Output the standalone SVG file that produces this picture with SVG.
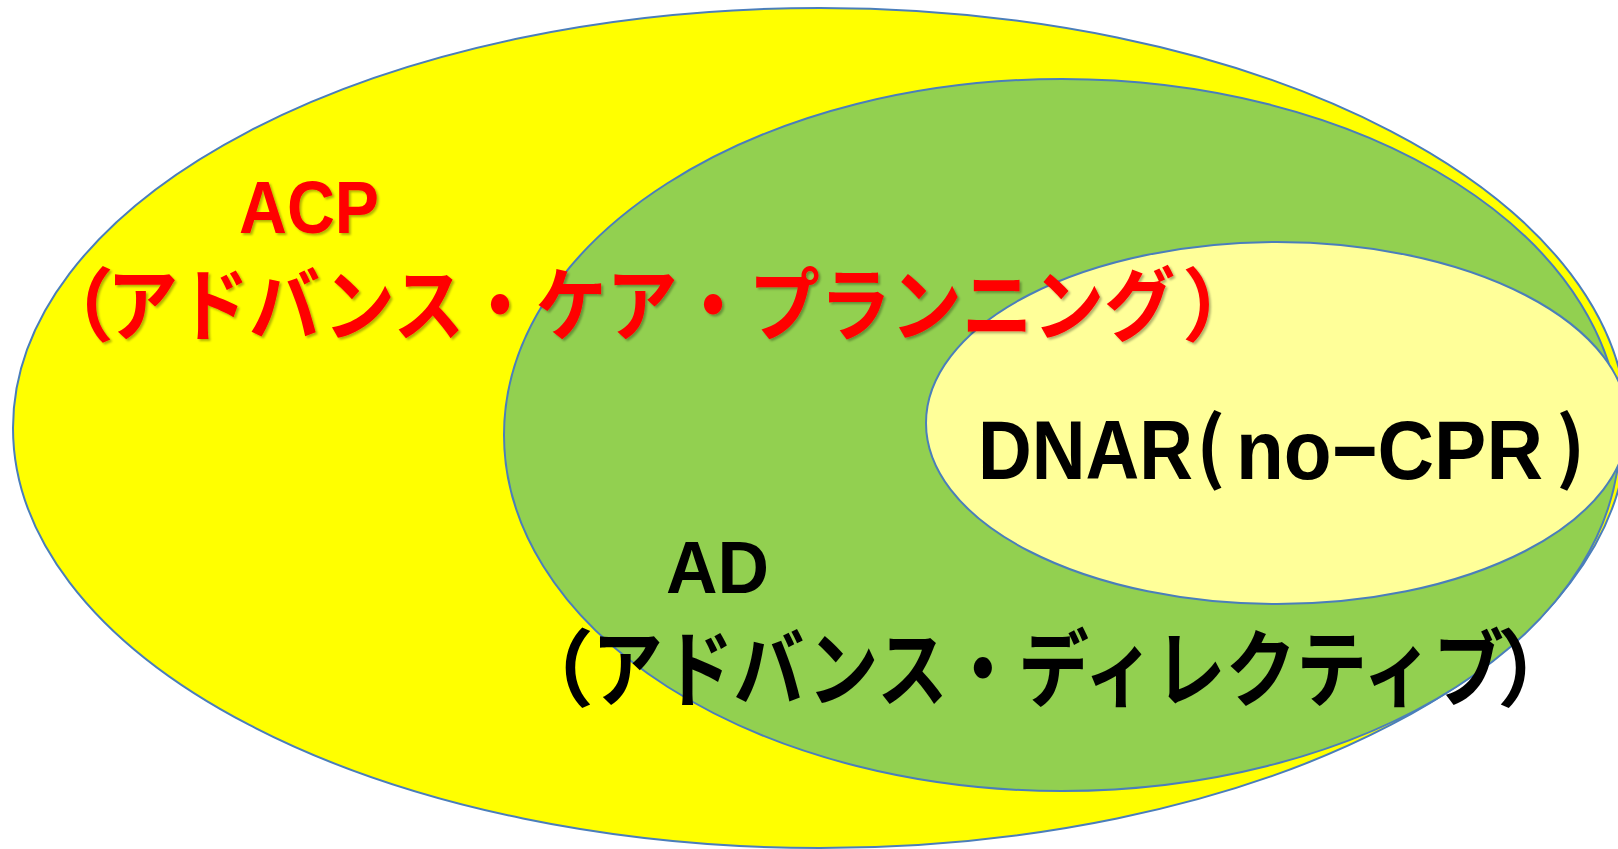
<svg xmlns="http://www.w3.org/2000/svg" width="1618" height="849" viewBox="0 0 1618 849">
<style>
.sh{stroke:#4A7EBB;stroke-width:2}
.red{fill:#FF0000;font-weight:700;font-family:"Noto Sans CJK JP","Liberation Sans",sans-serif}
.blk{fill:#000000;font-weight:700;font-family:"Noto Sans CJK JP","Liberation Sans",sans-serif}
.lat{font-family:"Liberation Sans","Noto Sans CJK JP",sans-serif}
</style>
<defs>
<filter id="ds" x="-5%" y="-20%" width="110%" height="140%">
<feDropShadow dx="2" dy="2" stdDeviation="1" flood-color="#000000" flood-opacity="0.3"/>
</filter>
</defs>
<rect width="1618" height="849" fill="#FFFFFF"/>
<g id="acp">
<ellipse class="sh" cx="820" cy="428" rx="807" ry="420" fill="#FFFF00"/>
</g>
<g id="ad">
<ellipse class="sh" cx="1062" cy="435" rx="558" ry="356" fill="#92D050"/>
</g>
<g id="dnar">
<ellipse class="sh" cx="1277" cy="423" rx="351" ry="181" fill="#FFFF99"/>
</g>
<g id="acp-label" filter="url(#ds)">
<text class="red lat" x="239" y="233" font-size="75" textLength="140" lengthAdjust="spacingAndGlyphs">ACP</text>
<text class="red" y="334" font-size="80"><tspan x="34">（</tspan><tspan x="107" textLength="1068" lengthAdjust="spacingAndGlyphs">アドバンス・ケア・プランニング</tspan><tspan x="1182">）</tspan></text>
</g>
<g id="ad-label">
<text class="blk lat" x="666" y="593" font-size="75" textLength="103" lengthAdjust="spacingAndGlyphs">AD</text>
<text class="blk" y="700" font-size="84"><tspan x="510">（</tspan><tspan x="592" textLength="912" lengthAdjust="spacingAndGlyphs">アドバンス・ディレクティブ</tspan><tspan x="1497">）</tspan></text>
</g>
<g id="dnar-label">
<text class="blk lat" y="479" font-size="84"><tspan x="978" textLength="215" lengthAdjust="spacingAndGlyphs">DNAR</tspan><tspan x="1196" font-size="78" font-family="Noto Sans CJK JP" dy="-4">(</tspan><tspan x="1236" dy="4" textLength="307" lengthAdjust="spacingAndGlyphs">no−CPR</tspan> <tspan x="1556" font-size="78" font-family="Noto Sans CJK JP" dy="-4">)</tspan></text>
</g>
<g id="connectors"/>
</svg>
